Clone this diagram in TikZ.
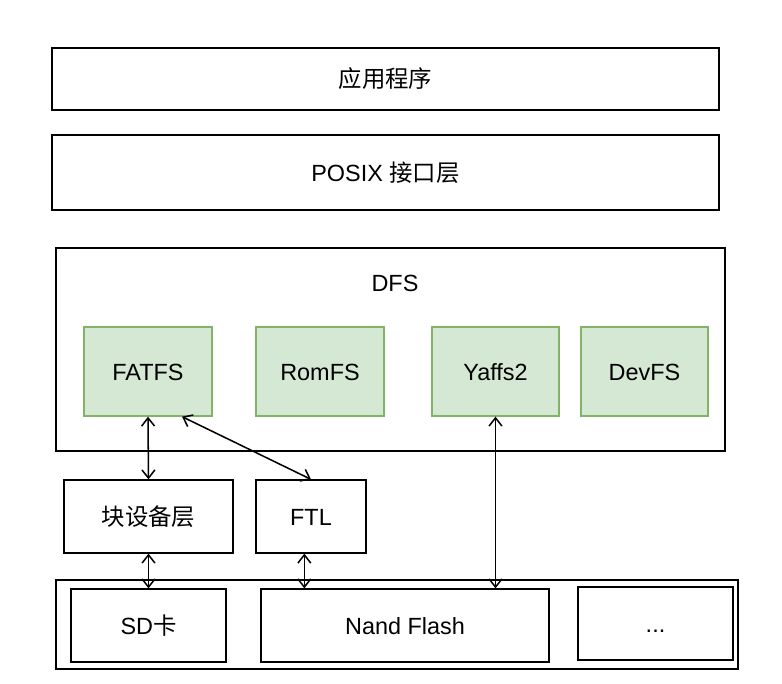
\documentclass[tikz,border=0pt]{standalone}
\usepackage{fontspec}
\setmainfont{Liberation Sans}
\newfontfamily\cjk{Noto Sans CJK SC}
\usetikzlibrary{positioning,arrows.meta}
\definecolor{fsfill}{HTML}{D5E8D4}
\definecolor{fsline}{HTML}{82B366}

\begin{document}
\begin{tikzpicture}[x=0.03cm,y=-0.03cm,
    font=\fontsize{20}{24}\selectfont,
    layer/.style 2 args={draw,line width=1.1pt,inner sep=0pt,
        text height=17pt,text depth=2pt,
        minimum width=#1*0.03cm,minimum height=#2*0.03cm},
    fsbox/.style={layer={128}{89},fill=fsfill,draw=fsline},
    link/.style={line width=1.3pt,{Straight Barb[length=7pt,width=11pt]}-{Straight Barb[length=7pt,width=11pt]}}]
    \useasboundingbox (0,0) rectangle (782,684);
    \node[layer={667}{62}] (app) at (385.5,79) {\cjk 应用程序};
    \node[layer={667}{75}] (posix) at (385.5,172.5) {POSIX {\cjk 接口层}};
    \node[layer={669}{203}] (dfs) at (390.5,349.5) {};
    \node (dfslabel) at (395,283) {DFS};
    \node[fsbox] (fatfs) at (148,371.5) {FATFS};
    \node[fsbox] (romfs) at (320,371.5) {RomFS};
    \node[fsbox,minimum width=127*0.03cm] (yaffs) at (495.5,371.5) {Yaffs2};
    \node[fsbox,minimum width=127*0.03cm] (devfs) at (644.5,371.5) {DevFS};
    \node[layer={169}{73}] (blk) at (148.5,516.5) {\cjk 块设备层};
    \node[layer={110}{73}] (ftl) at (311,516.5) {FTL};
    \node[layer={682}{89}] (store) at (397,624.5) {};
    \node[layer={155}{73}] (sd) at (148.5,625.5) {SD{\cjk 卡}};
    \node[layer={288}{73}] (nand) at (405,625.5) {Nand Flash};
    \node[layer={155}{73}] (more) at (655.5,623.5) {...};
    \draw[link] (fatfs.south) -- (blk.north);
    \draw[link] (fatfs.-53) -- (ftl.north);
    \draw[link] (blk.south) -- (blk.south |- sd.north);
    \draw[link] ([xshift=-0.2cm]ftl.south) -- ([xshift=-0.2cm]ftl.south |- nand.north);
    \draw[link] (yaffs.south) -- (yaffs.south |- nand.north);
\end{tikzpicture}
\end{document}
